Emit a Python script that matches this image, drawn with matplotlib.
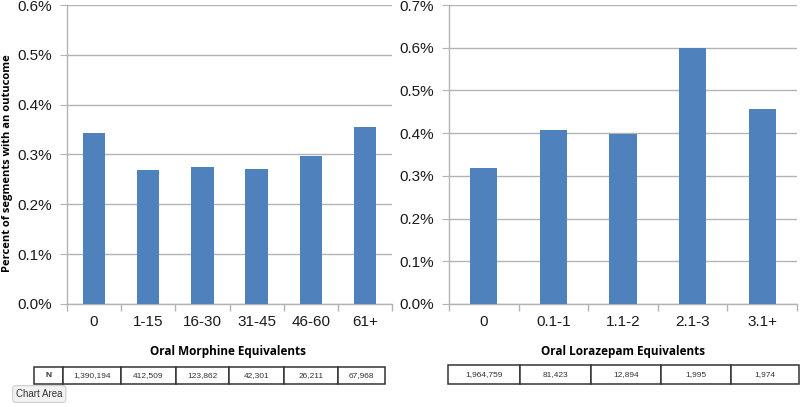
import numpy as np
import matplotlib
matplotlib.use("Agg")
import matplotlib.pyplot as plt
from matplotlib.ticker import PercentFormatter

plt.rcParams['font.family'] = ['Liberation Sans', 'DejaVu Sans']

# data
morphine_cats = ["0", "1-15", "16-30", "31-45", "46-60", "61+"]
morphine_pct = [0.343, 0.269, 0.275, 0.270, 0.297, 0.356]
morphine_n = ["1,390,194", "412,509", "123,862", "42,301", "26,211", "67,968"]

lorazepam_cats = ["0", "0.1-1", "1.1-2", "2.1-3", "3.1+"]
lorazepam_pct = [0.318, 0.408, 0.397, 0.600, 0.457]
lorazepam_n = ["1,964,759", "81,423", "12,894", "1,995", "1,974"]

bar_color = "#4f81bd"
grid_color = "#b3b3b3"
label_font = ['Open Sans', 'DejaVu Sans']

fig = plt.figure(figsize=(8, 4.07), dpi=100)
ax1 = fig.add_axes([0.08375, 0.2531, 0.40625, 0.7346])
ax2 = fig.add_axes([0.56125, 0.2531, 0.435, 0.7346])


def style_axis(ax, cats, vals, ymax, width):
    x = np.arange(len(cats))
    ax.bar(x, vals, width=width, color=bar_color, zorder=3)
    ax.set_xlim(-0.5, len(cats) - 0.5)
    ax.set_ylim(0, ymax)
    ax.set_yticks(np.arange(0, ymax + 0.001, 0.1))
    ax.yaxis.set_major_formatter(PercentFormatter(decimals=1))
    ax.set_xticks(x)
    ax.set_xticklabels(cats)
    ax.set_xticks(np.arange(-0.5, len(cats)), minor=True)
    ax.tick_params(axis='x', which='major', length=0, pad=8, labelsize=11, colors='#1a1a1a')
    ax.tick_params(axis='x', which='minor', length=5, color=grid_color, width=1)
    ax.tick_params(axis='y', length=5, color=grid_color, pad=6, labelsize=11, labelcolor='#1a1a1a')
    ax.grid(axis='y', color=grid_color, linewidth=1, zorder=0)
    ax.set_axisbelow(True)
    for side in ('top', 'right'):
        ax.spines[side].set_visible(False)
    for side in ('left', 'bottom'):
        ax.spines[side].set_color(grid_color)
        ax.spines[side].set_linewidth(1)


style_axis(ax1, morphine_cats, morphine_pct, 0.6, 0.41)
style_axis(ax2, lorazepam_cats, lorazepam_pct, 0.7, 0.39)

ax1.set_xlabel("Oral Morphine Equivalents", fontsize=8.5, fontweight='bold', family=label_font)
ax1.xaxis.set_label_coords(0.495, -0.138)
ax2.set_xlabel("Oral Lorazepam Equivalents", fontsize=8.5, fontweight='bold', family=label_font)
ax2.xaxis.set_label_coords(0.5, -0.138)
ax1.set_ylabel("Percent of segments with an outucome", fontsize=8, fontweight='bold', family=label_font)
ax1.yaxis.set_label_coords(-0.165, 0.47)

# N tables under each panel
t1 = ax1.table(cellText=[["N"] + morphine_n],
               colWidths=[29, 58, 55, 53, 55, 54, 47],
               cellLoc='center', bbox=[-0.1015, -0.2676, 1.0795, 0.058])
t2 = ax2.table(cellText=[lorazepam_n],
               colWidths=[72, 71, 70, 70, 68],
               cellLoc='center', bbox=[-0.003, -0.2676, 1.009, 0.0635])
for t in (t1, t2):
    t.auto_set_font_size(False)
    t.set_fontsize(6)
    for (r, c), cell in t.get_celld().items():
        cell.set_edgecolor('#333333')
        cell.set_linewidth(1.1)
        cell.get_text().set_color('#333333')
t1[0, 0].get_text().set_fontweight('bold')

fig.text(0.02, 1 - 394 / 407, "Chart Area", fontsize=7, va='center', color='#333333',
         bbox=dict(boxstyle='round,pad=0.35', fc='#f2f2f2', ec='#d0d0d0', lw=0.8))

fig.savefig("out.png", dpi=100)
